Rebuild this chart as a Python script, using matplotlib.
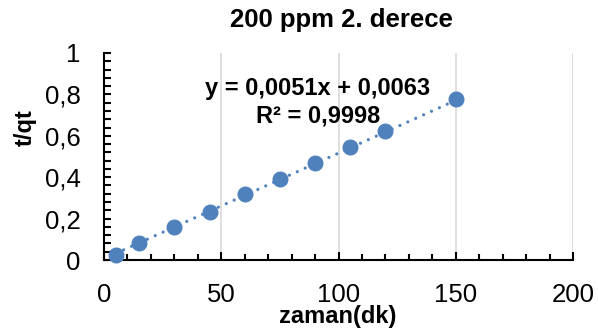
import numpy as np
import matplotlib
matplotlib.use("Agg")
import matplotlib.pyplot as plt
from matplotlib.ticker import MultipleLocator, FuncFormatter

plt.rcParams["font.family"] = ["Liberation Sans", "DejaVu Sans"]

# Kinetic data: time (min) vs t/qt
time_min = [5, 15, 30, 45, 60, 75, 90, 105, 120, 150]
t_over_qt = [0.026, 0.081, 0.158, 0.232, 0.319, 0.390, 0.467, 0.547, 0.623, 0.778]

# Linear trendline parameters
slope = 0.0051
intercept = 0.0063
r_squared = 0.9998

x_ticks = [0, 50, 100, 150, 200]
y_ticks = [0, 0.2, 0.4, 0.6, 0.8, 1.0]

title = "200 ppm 2. derece"
x_label = "zaman(dk)"
y_label = "t/qt"

BLUE = "#4F81BD"
W, H = 598, 336

fig = plt.figure(figsize=(W / 100, H / 100), dpi=100)
ax = fig.add_axes([104 / W, 1 - 260 / H, (573 - 104) / W, (260 - 53) / H])

ax.set_xlim(x_ticks[0], x_ticks[-1])
ax.set_ylim(y_ticks[0], y_ticks[-1])
ax.set_xticks(x_ticks)
ax.set_yticks(y_ticks)
ax.xaxis.set_minor_locator(MultipleLocator(10))
ax.yaxis.set_minor_locator(MultipleLocator(0.04))

comma = FuncFormatter(lambda v, _: f"{v:g}".replace(".", ","))
ax.xaxis.set_major_formatter(comma)
ax.yaxis.set_major_formatter(comma)

ax.xaxis.grid(True, which="major", color="#D9D9D9", lw=1.2)
ax.yaxis.grid(False)
ax.set_axisbelow(True)

for side in ("top", "right"):
    ax.spines[side].set_visible(False)
for side in ("left", "bottom"):
    ax.spines[side].set_linewidth(1.5)
    ax.spines[side].set_color("black")

ax.tick_params(axis="x", which="major", direction="in", length=5.5, width=1.5,
               labelsize=18.5, pad=16.5)
ax.tick_params(axis="x", which="minor", direction="in", length=4, width=1.5)
ax.tick_params(axis="y", which="both", direction="in", length=5, width=1.5,
               labelsize=18.5, pad=17)

# Trendline over the data range
xs = np.array([min(time_min), max(time_min)], dtype=float)
ax.plot(xs, slope * xs + intercept, color=BLUE, lw=2.3,
        ls=(0, (0.01, 2.7)), dash_capstyle="round", zorder=3)

ax.plot(time_min, t_over_qt, "o", ms=10.5, color=BLUE, mec=BLUE,
        clip_on=False, zorder=4)

def fmt(v, nd):
    return f"{v:.{nd}f}".replace(".", ",")

fig.text(318 / W, 1 - 95 / H, f"y = {fmt(slope, 4)}x + {fmt(intercept, 4)}",
         ha="center", va="baseline", fontsize=17, fontweight="bold")
fig.text(318 / W, 1 - 122 / H, f"R² = {fmt(r_squared, 4)}",
         ha="center", va="baseline", fontsize=17, fontweight="bold")

fig.text(341 / W, 1 - 27 / H, title, ha="center", va="baseline",
         fontsize=18.5, fontweight="bold")
fig.text(338 / W, 1 - 323 / H, x_label, ha="center", va="baseline",
         fontsize=17, fontweight="bold")
fig.text(25 / W, 1 - 128 / H, y_label, ha="center", va="center",
         rotation=90, fontsize=17, fontweight="bold")

fig.savefig("out.png", dpi=100)
